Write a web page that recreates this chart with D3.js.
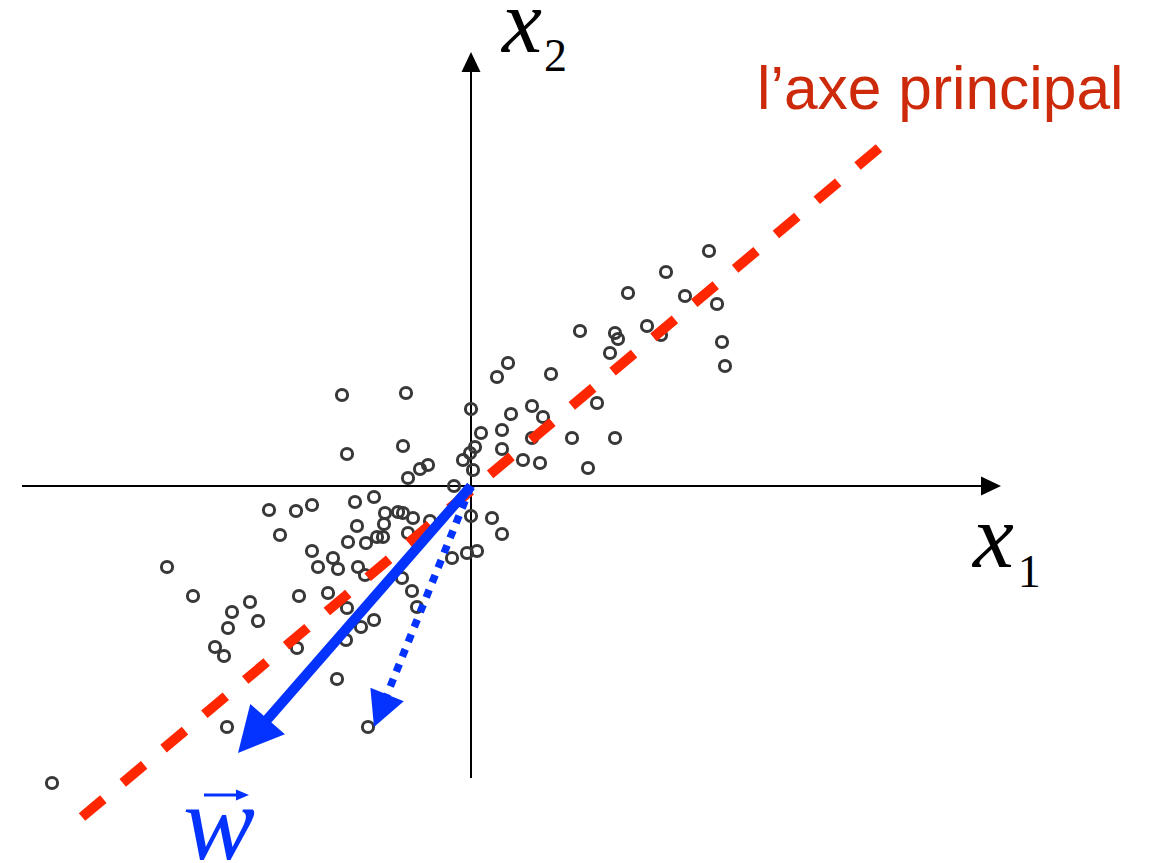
<!DOCTYPE html>
<html>
<head>
<meta charset="utf-8">
<script src="https://cdn.jsdelivr.net/npm/d3@7/dist/d3.min.js"></script>
<style>
  html, body { margin: 0; padding: 0; background: #fff; }
  svg { display: block; }
</style>
</head>
<body>
<svg id="chart" width="1154" height="863"></svg>
<script>
// Observations (x1, x2), centred on the origin
const x1Values = [
  2.38, 1.95, 1.57, 2.14, 2.46, 1.09, 1.44, 1.47, 1.39, 1.76, 1.90, 2.51, 2.54,
  0.37, 0.26, 0.80, 1.26, 0.00, 0.40, 0.61, 0.72, 0.10, 0.31, 0.04, 0.31, 1.01,
  1.44, 0.52, 0.69, 1.17, 0.61, -0.01, -0.08, 0.02,
  -1.29, -0.65, -1.24, -0.68, -0.43, -0.51, -0.63, -0.17,
  0.21, 0.31, 0.06, -0.04, -0.19, 0.00,
  -0.41, -0.58, -0.68, -0.73, -0.86, -1.16, -0.97, -2.02, -1.75, -1.59, -1.91,
  -1.14, -0.87, -1.23, -1.05, -0.94, -0.88, -0.63, -1.59, -1.38, -1.53, -1.33,
  -1.13, -1.06, -0.69, -0.59, -0.54, -3.04, -2.78, -2.21, -2.39, -2.13, -2.43,
  -2.56, -2.47, -1.72, -1.43, -1.24, -0.97, -1.10, -1.25, -1.74, -1.34, -1.03,
  -2.44, -4.19
];
const x2Values = [
  2.35, 2.14, 1.93, 1.90, 1.82, 1.55, 1.53, 1.47, 1.33, 1.60, 1.51, 1.44, 1.20,
  1.23, 1.09, 1.12, 0.83, 0.77, 0.72, 0.80, 0.69, 0.53, 0.56, 0.39, 0.37, 0.48,
  0.48, 0.26, 0.23, 0.18, 0.48, 0.33, 0.26, 0.16,
  0.91, 0.93, 0.32, 0.40, 0.21, 0.17, 0.08, 0.00,
  -0.32, -0.48, -0.65, -0.67, -0.72, -0.30,
  -0.35, -0.32, -0.27, -0.26, -0.27, -0.16, -0.11, -0.24, -0.25, -0.19, -0.49,
  -0.40, -0.38, -0.56, -0.57, -0.51, -0.51, -0.47, -0.65, -0.72, -0.81, -0.83,
  -0.81, -0.89, -0.92, -1.05, -1.21, -0.81, -1.10, -1.16, -1.26, -1.35, -1.42,
  -1.61, -1.70, -1.10, -1.07, -1.22, -1.34, -1.41, -1.54, -1.62, -1.93, -2.41,
  -2.41, -2.97
];

// Axis extents (left/bottom end, arrow tip)
const x1AxisExtent = [-4.49, 5.30];
const x2AxisExtent = [-2.92, 4.34];

// Principal axis segment (upper end first)
const principalAxis = [[4.08, 3.38], [-3.89, -3.31]];

// Vectors drawn from the origin
const wVector = [-2.33, -2.67];
const pointVector = [-0.97, -2.41];

// Labels
const labels = {
  x1: ["x", "1"],
  x2: ["x", "2"],
  axis: "l\u2019axe principal",
  w: "w"
};

const svg = d3.select("#chart");

const x = d3.scaleLinear().domain([0, 1]).range([471, 571]);
const y = d3.scaleLinear().domain([0, 1]).range([486, 386]);

const points = x1Values.map((v, i) => ({ x1: v, x2: x2Values[i] }));

// Arrowhead triangle at the end of a segment
function headPath(x0, y0, x1, y1, len, wid) {
  const dx = x1 - x0, dy = y1 - y0;
  const L = Math.hypot(dx, dy);
  const ux = dx / L, uy = dy / L;
  const bx = x1 - ux * len, by = y1 - uy * len;
  const px = -uy * wid / 2, py = ux * wid / 2;
  return `M${x1},${y1}L${bx + px},${by + py}L${bx - px},${by - py}Z`;
}

// --- Coordinate axes ---
const axes = svg.append("g");
const axH = [x(x1AxisExtent[0]), y(0), x(x1AxisExtent[1]), y(0)];
const axV = [x(0), y(x2AxisExtent[0]), x(0), y(x2AxisExtent[1])];
[axH, axV].forEach(a => {
  const [ax0, ay0, ax1, ay1] = a;
  const dx = ax1 - ax0, dy = ay1 - ay0, L = Math.hypot(dx, dy);
  axes.append("line")
    .attr("x1", ax0).attr("y1", ay0)
    .attr("x2", ax1 - dx / L * 18).attr("y2", ay1 - dy / L * 18)
    .attr("stroke", "#000").attr("stroke-width", 2);
  axes.append("path")
    .attr("d", headPath(ax0, ay0, ax1, ay1, 20, 19))
    .attr("fill", "#000");
});

// --- Scatter points ---
svg.append("g")
  .selectAll("circle")
  .data(points)
  .join("circle")
  .attr("cx", d => x(d.x1))
  .attr("cy", d => y(d.x2))
  .attr("r", 5.6)
  .attr("fill", "none")
  .attr("stroke", "#383838")
  .attr("stroke-width", 3);

// --- Principal axis (dashed) ---
svg.append("line")
  .attr("x1", x(principalAxis[0][0])).attr("y1", y(principalAxis[0][1]))
  .attr("x2", x(principalAxis[1][0])).attr("y2", y(principalAxis[1][1]))
  .attr("stroke", "#ff2600")
  .attr("stroke-width", 10)
  .attr("stroke-dasharray", "28 25.3");

// --- Vectors ---
function vector(target, opts) {
  const sx = x(0), sy = y(0);
  const tx = x(target[0]), ty = y(target[1]);
  const dx = tx - sx, dy = ty - sy, L = Math.hypot(dx, dy);
  const g = svg.append("g");
  g.append("line")
    .attr("x1", sx).attr("y1", sy)
    .attr("x2", tx - dx / L * (opts.head - 2)).attr("y2", ty - dy / L * (opts.head - 2))
    .attr("stroke", "#0433ff")
    .attr("stroke-width", opts.width)
    .attr("stroke-dasharray", opts.dash || null);
  g.append("path")
    .attr("d", headPath(sx, sy, tx, ty, opts.head, opts.headWidth))
    .attr("fill", "#0433ff");
}
vector(pointVector, { width: 7.5, dash: "8 8", head: 35, headWidth: 36 });
vector(wVector, { width: 10, head: 45, headWidth: 46 });

// --- Labels ---
const serif = "'Liberation Serif', 'DejaVu Serif', serif";

function subLabel(parts, px, py, size, subSize, subDx, subDy) {
  const t = svg.append("text")
    .attr("x", px).attr("y", py)
    .attr("font-family", serif)
    .attr("fill", "#000");
  t.append("tspan").attr("font-style", "italic").attr("font-size", size).text(parts[0]);
  t.append("tspan").attr("font-size", subSize).attr("dx", subDx).attr("dy", subDy).text(parts[1]);
}
subLabel(labels.x2, 502, 52, 90, 46, 2, 19);
subLabel(labels.x1, 973, 567, 92, 46, 4, 20);

svg.append("text")
  .attr("x", 757).attr("y", 109)
  .attr("font-family", "'Liberation Sans', Arial, sans-serif")
  .attr("font-size", 60.5)
  .attr("fill", "#cc2a0a")
  .text(labels.axis);

// w with its vector arrow
svg.append("text")
  .attr("x", 183).attr("y", 859)
  .attr("font-family", serif)
  .attr("font-style", "italic")
  .attr("font-size", 108)
  .attr("fill", "#0433ff")
  .text(labels.w);
svg.append("line")
  .attr("x1", 204).attr("y1", 795).attr("x2", 238).attr("y2", 795)
  .attr("stroke", "#0433ff").attr("stroke-width", 3);
svg.append("path")
  .attr("d", headPath(204, 795, 249, 795, 13, 11))
  .attr("fill", "#0433ff");
</script>
</body>
</html>
